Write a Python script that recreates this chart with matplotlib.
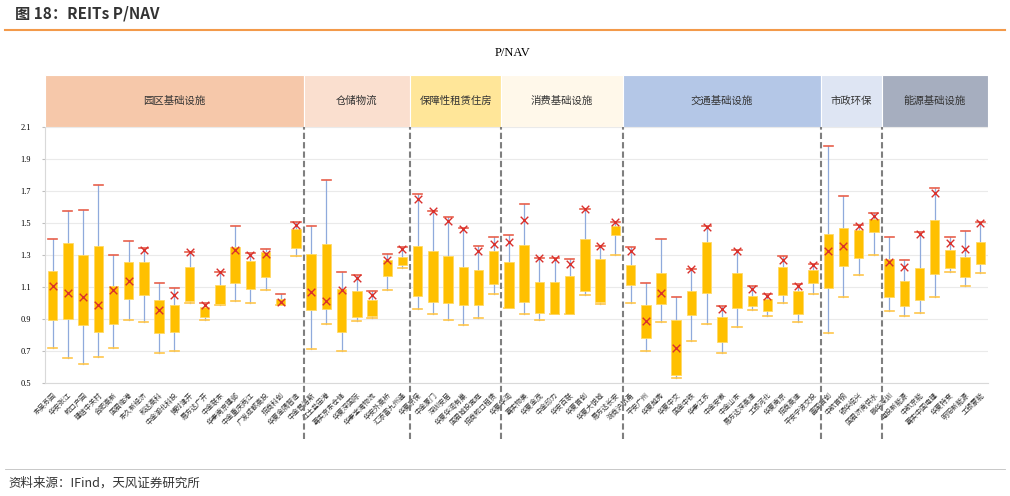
import matplotlib.pyplot as plt
import matplotlib.transforms as mtransforms
from matplotlib.patches import Rectangle

plt.rcParams['font.family'] = ['Noto Sans CJK SC', 'DejaVu Sans']

# groups
groups = ['园区基础设施', '仓储物流', '保障性租赁住房', '消费基础设施', '交通基础设施', '市政环保', '能源基础设施']
group_sizes = [17, 7, 6, 8, 13, 4, 7]
group_colors = ['#F6C8AA', '#FADFCF', '#FFE699', '#FFF8EA', '#B4C7E7', '#DEE5F3', '#A6AEBF']

names = ['东吴苏园', '华安张江', '蛇口产园', '建信中关村', '合肥高新', '国君临港', '东久新经济', '和达高科',
         '中金湖北科投', '博时津开', '易方达广开', '中金联东', '华泰南京建邺', '中金重庆两江', '广发成都高投',
         '招商科创', '华夏金隅智造',
         '中金普洛斯', '红土盐田港', '嘉实京东仓储', '华夏深国际', '华泰宝湾物流', '华安外高桥', '汇添富九州通',
         '华夏京保', '中金厦门', '深圳安居', '华夏华润有巢', '国君城投宽庭', '招商蛇口租赁',
         '华夏华润', '嘉实物美', '华夏金茂', '中金印力', '华安百联', '华夏首创', '华夏大悦城', '易方达长安',
         '浙商沪杭甬', '平安广州', '华夏越秀', '华夏中交', '国金中铁', '华泰江苏', '中金安徽', '中金山东',
         '易方达深高速', '工银河北', '华夏南京', '招商高速', '平安宁波交投',
         '富国首创', '中航首钢', '银华绍兴', '国君济南供水',
         '鹏华深圳', '电投新能源', '中航京能', '嘉实中国电建', '华夏特变', '明阳新能源', '工银蒙能']

low = [0.721, 0.656, 0.619, 0.66, 0.717, 0.894, 0.879, 0.685, 0.702, 0.998, 0.894, 0.99, 1.010, 0.998, 1.083, 0.985, 1.292,
       0.71, 0.871, 0.702, 0.888, 0.904, 1.079, 1.219,
       0.9625, 0.933, 0.896, 0.86, 0.906, 1.056,
       0.971, 0.933, 0.896, 0.931, 0.931, 1.052, 0.996, 1.298,
       1.002, 0.702, 0.879, 0.53, 0.76, 0.869, 0.685, 0.848, 0.958, 0.917, 0.998, 0.883, 1.054,
       0.81, 1.04, 1.177, 1.298,
       0.948, 0.917, 0.935, 1.035, 1.196, 1.104, 1.19]
q1 = [0.896, 0.9, 0.862, 0.817, 0.869, 1.027, 1.052, 0.813, 0.817, 1.015, 0.91, 0.996, 1.125, 1.088, 1.163, 0.985, 1.344,
      0.954, 0.9625, 0.819, 0.915, 0.917, 1.171, 1.24,
      1.044, 1.006, 1.002, 0.9875, 0.9875, 1.117,
      0.971, 1.006, 0.938, 0.931, 0.931, 1.073, 1.006, 1.425,
      1.11, 0.783, 0.996, 0.548, 0.923, 1.063, 0.754, 0.969, 0.983, 0.948, 1.05, 0.931, 1.127,
      1.094, 1.229, 1.281, 1.444,
      1.04, 0.979, 1.019, 1.179, 1.219, 1.165, 1.244]
q3 = [1.202, 1.375, 1.30, 1.358, 1.108, 1.256, 1.256, 1.017, 0.985, 1.225, 0.975, 1.115, 1.348, 1.265, 1.319, 1.027, 1.4625,
      1.306, 1.367, 1.085, 1.077, 1.021, 1.271, 1.29,
      1.354, 1.327, 1.294, 1.223, 1.208, 1.327,
      1.258, 1.363, 1.129, 1.133, 1.171, 1.402, 1.273, 1.479,
      1.235, 0.985, 1.1875, 0.896, 1.073, 1.381, 0.915, 1.1875, 1.046, 1.023, 1.227, 1.073, 1.206,
      1.431, 1.469, 1.456, 1.527,
      1.275, 1.1375, 1.221, 1.519, 1.333, 1.29, 1.383]
high = [1.402, 1.573, 1.583, 1.735, 1.298, 1.385, 1.344, 1.123, 1.096, 1.317, 1.0, 1.192, 1.483, 1.3125, 1.34, 1.058, 1.504,
        1.479, 1.771, 1.192, 1.177, 1.073, 1.308, 1.35,
        1.681, 1.577, 1.54, 1.469, 1.358, 1.41,
        1.427, 1.619, 1.283, 1.279, 1.273, 1.588, 1.358, 1.506,
        1.35, 1.125, 1.402, 1.04, 1.21, 1.483, 0.979, 1.333, 1.104, 1.054, 1.292, 1.121, 1.245,
        1.979, 1.671, 1.49, 1.5625,
        1.415, 1.269, 1.442, 1.719, 1.41, 1.448, 1.504]
mean = [1.108, 1.063, 1.037, 0.985, 1.083, 1.14, 1.329, 0.954, 1.048, 1.317, 0.99, 1.192, 1.333, 1.298, 1.308, 1.006, 1.485,
        1.069, 1.01, 1.083, 1.154, 1.05, 1.271, 1.338,
        1.65, 1.577, 1.512, 1.4625, 1.327, 1.369,
        1.381, 1.519, 1.283, 1.273, 1.246, 1.588, 1.358, 1.504,
        1.323, 0.885, 1.0625, 0.717, 1.21, 1.473, 0.9625, 1.323, 1.09, 1.042, 1.271, 1.104, 1.235,
        1.323, 1.358, 1.479, 1.546,
        1.254, 1.227, 1.429, 1.6875, 1.375, 1.338, 1.5]

fig = plt.figure(figsize=(10.1, 4.96), dpi=100)
ax = fig.add_axes([0.0446, 0.228, 0.9336, 0.516])
hx = fig.add_axes([0.0446, 0.744, 0.9336, 0.105], sharex=ax)

n = len(names)
x = list(range(n))
for i in x:
    ax.plot([i, i], [low[i], q1[i]], color='#8FAADC', lw=0.9, zorder=2)
    ax.plot([i, i], [q3[i], high[i]], color='#8FAADC', lw=0.9, zorder=2)
    ax.plot([i - 0.3, i + 0.3], [high[i], high[i]], color='#E8604C', lw=1.2, zorder=3)
    ax.plot([i - 0.3, i + 0.3], [low[i], low[i]], color='#FFC64A', lw=1.2, zorder=3)
ax.bar(x, [b - a for a, b in zip(q1, q3)], bottom=q1, width=0.62, color='#FFC000',
       edgecolor='#FFD966', linewidth=0.6, zorder=4)
ax.scatter(x, mean, marker='x', color='#D9302C', s=30, linewidths=1.0, zorder=5)

ax.set_xlim(-0.5, n - 0.5)
ax.set_ylim(0.5, 2.1)
ax.set_yticks([0.5, 0.7, 0.9, 1.1, 1.3, 1.5, 1.7, 1.9, 2.1])
ax.set_yticklabels(['0.5', '0.7', '0.9', '1.1', '1.3', '1.5', '1.7', '1.9', '2.1'],
                   fontsize=6, family='Liberation Serif')
ax.grid(axis='y', color='#EAEAEA', lw=0.8, zorder=0)
ax.set_axisbelow(True)
for s in ['top', 'right']:
    ax.spines[s].set_visible(False)
ax.spines['left'].set_color('#D9D9D9')
ax.spines['bottom'].set_color('#D9D9D9')
ax.tick_params(axis='y', length=2, color='#BFBFBF', pad=8)
ax.set_xticks(x)
ax.set_xticklabels(names, rotation=45, ha='right', rotation_mode='anchor', fontsize=5, color='#333333')
ax.tick_params(axis='x', length=0, pad=6)

# header bands and separators
trans = mtransforms.blended_transform_factory(ax.transData, ax.transAxes)
start = -0.5
for g, size, c in zip(groups, group_sizes, group_colors):
    hx.add_patch(Rectangle((start, 0), size, 1, facecolor=c, edgecolor='white', lw=0.8))
    hx.text(start + size / 2, 0.5, g, ha='center', va='center', fontsize=7.5, color='#333333')
    end = start + size
    if end < n - 0.5:
        ax.plot([end, end], [-0.22, 1.0], transform=trans, color='#7F7F7F', lw=1.5,
                ls=(0, (3, 1.5)), clip_on=False, zorder=1)
    start = end
hx.set_ylim(0, 1)
hx.axis('off')

fig.text(0.507, 0.893, 'P/NAV', ha='center', va='center', fontsize=9, family='Liberation Serif')
fig.text(0.015, 0.972, '图 18：REITs P/NAV', ha='left', va='center', fontsize=11, fontweight='bold', color='#333333')
fig.add_artist(plt.Line2D([0.005, 0.995], [0.94, 0.94], color='#F39A4A', lw=1.5))
fig.add_artist(plt.Line2D([0.005, 0.995], [0.054, 0.054], color='#BFBFBF', lw=0.6))
fig.text(0.008, 0.025, '资料来源：IFind，天风证券研究所', ha='left', va='center', fontsize=9, color='#333333')

fig.savefig('out.png', dpi=100)
